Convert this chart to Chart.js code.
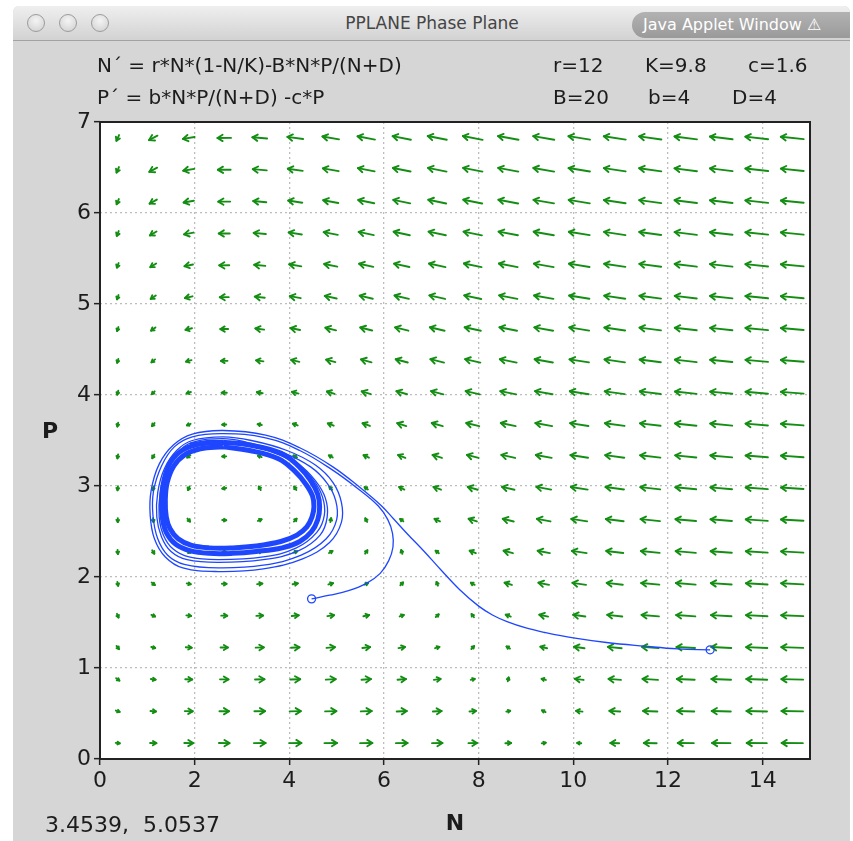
<!DOCTYPE html>
<html>
<head>
<meta charset="utf-8">
<script src="https://cdn.jsdelivr.net/npm/chart.js@4.4.1/dist/chart.umd.min.js"></script>
<style>
  body { margin: 0; width: 853px; height: 841px; overflow: hidden; position: relative; background: #fff; font-family: "DejaVu Sans", sans-serif; }
  #win { position: absolute; left: 13px; top: 6px; width: 837px; height: 840px; background: #d6d6d6; border-radius: 6px 6px 0 0; overflow: hidden; }
  #bar { position: absolute; left: 0; top: 0; width: 100%; height: 34px; background: linear-gradient(#efefef, #d2d2d2); border-bottom: 1px solid #a2a2a2; }
  .btn { position: absolute; top: 8px; width: 16px; height: 16px; border-radius: 50%; border: 1px solid #9c9c9c; background: radial-gradient(circle at 50% 35%, #f4f4f4, #cfcfcf); }
  #title { position: absolute; left: 0; width: 838px; top: 7px; text-align: center; font-size: 17px; color: #454545; }
  #pill { position: absolute; left: 619px; top: 6px; width: 230px; height: 26px; border-radius: 13px; background: linear-gradient(#b2b2b2, #9a9a9a); color: #fff; font-size: 16px; line-height: 26px; padding-left: 11px; box-sizing: border-box; white-space: nowrap; }
  .txt { position: absolute; font-size: 20px; line-height: 20px; color: #1c1c1c; white-space: pre; z-index: 2; }
  canvas { position: absolute; left: 0; top: 0; z-index: 1; }
</style>
</head>
<body>
<div id="win">
  <div id="bar">
    <div class="btn" style="left:14px"></div>
    <div class="btn" style="left:46px"></div>
    <div class="btn" style="left:78px"></div>
    <div id="title">PPLANE Phase Plane</div>
    <div id="pill">Java Applet Window ⚠</div>
  </div>
</div>
<div class="txt" style="left:97px;top:55px">N´ = r*N*(1-N/K)-B*N*P/(N+D)</div>
<div class="txt" style="left:97px;top:87px">P´ = b*N*P/(N+D) -c*P</div>
<div class="txt" style="left:553px;top:55px">r=12</div>
<div class="txt" style="left:645px;top:55px">K=9.8</div>
<div class="txt" style="left:748px;top:55px">c=1.6</div>
<div class="txt" style="left:553px;top:87px">B=20</div>
<div class="txt" style="left:648px;top:87px">b=4</div>
<div class="txt" style="left:732px;top:87px">D=4</div>
<div class="txt" style="left:42px;top:420px;font-weight:bold;font-size:22px;line-height:22px">P</div>
<div class="txt" style="left:45px;top:814px;font-size:22px;line-height:22px">3.4539,  5.0537</div>
<canvas id="chart" width="853" height="841"></canvas>
<script>
// model parameters, as printed on the window
const r = 12, K = 9.8, c = 1.6, B = 20, b = 4, D = 4;

// axis ticks
const nTicks = [0, 2, 4, 6, 8, 10, 12, 14];
const pTicks = [0, 1, 2, 3, 4, 5, 6, 7];

// direction field grid (20 x 20)
const fieldN = [0.375, 1.125, 1.875, 2.625, 3.375, 4.125, 4.875, 5.625, 6.375, 7.125,
                7.875, 8.625, 9.375, 10.125, 10.875, 11.625, 12.375, 13.125, 13.875, 14.625];
const fieldP = [0.175, 0.525, 0.875, 1.225, 1.575, 1.925, 2.275, 2.625, 2.975, 3.325,
                3.675, 4.025, 4.375, 4.725, 5.075, 5.425, 5.775, 6.125, 6.475, 6.825];

// initial points (circles)
const startPoints = [[12.89, 1.20], [4.47, 1.76]];

// trajectory from (12.89, 1.20)
const trajA = [
  [12.89,1.20],[12.2,1.21],[11.5,1.24],[10.7,1.28],[10.0,1.33],[9.4,1.39],[9.0,1.44],[8.6,1.51],
  [8.3,1.58],[8.0,1.68],[7.6,1.86],[7.2,2.08],[6.85,2.28],[6.5,2.47],[6.2,2.64],[5.95,2.78],
  [5.5,2.98],[4.92,3.21],[4.22,3.42],[3.5,3.56],[2.6,3.61],[1.95,3.57],[1.55,3.45],[1.25,3.24],
  [1.08,2.95],[1.06,2.68],[1.15,2.42],[1.38,2.22],[1.75,2.10],[2.5,2.06],[3.45,2.09],[4.28,2.20],
  [4.85,2.38],[5.10,2.60],[5.10,2.82],[4.92,3.04],[4.55,3.23],[3.95,3.39],[3.2,3.50],[2.6,3.54],
  [1.95,3.50],[1.62,3.39],[1.36,3.19],[1.22,2.93],[1.20,2.66],[1.30,2.44],[1.50,2.28],[1.84,2.19],
  [2.5,2.16],[3.45,2.19],[4.2,2.29],[4.65,2.46],[4.80,2.66],[4.76,2.87],[4.55,3.06],[4.2,3.24],
  [3.7,3.38],[3.0,3.47],[2.4,3.50],[1.9,3.47]
];

// trajectory from (4.47, 1.76)
const trajB = [
  [4.47,1.76],[4.85,1.80],[5.25,1.85],[5.63,1.93],[5.92,2.04],[6.1,2.18],[6.19,2.33],[6.18,2.48],
  [6.08,2.63],[5.88,2.78],[5.45,2.97],[4.9,3.18],[4.22,3.39],[3.5,3.53],[2.6,3.575],[1.95,3.54],
  [1.57,3.43],[1.3,3.22],[1.13,2.94],[1.12,2.67],[1.22,2.42],[1.43,2.24],[1.78,2.14],[2.5,2.10],
  [3.45,2.13],[4.25,2.24],[4.78,2.42],[5.0,2.63],[4.98,2.84],[4.8,3.03],[4.45,3.21],[3.85,3.37],
  [3.1,3.48],[2.6,3.52],[1.95,3.48],[1.65,3.37],[1.40,3.18],[1.27,2.92],[1.25,2.66],[1.34,2.46],
  [1.54,2.31],[1.88,2.22],[2.5,2.19],[3.45,2.22],[4.15,2.32],[4.58,2.49],[4.74,2.68],[4.70,2.88],
  [4.50,3.07],[4.15,3.24],[3.65,3.37],[3.0,3.46],[2.4,3.49],[1.9,3.46]
];

// limit cycle band, outer and inner edge
const bandOuter = [
  [2.6,3.48],[2.1,3.46],[1.73,3.39],[1.49,3.26],[1.35,3.06],[1.30,2.85],[1.32,2.64],[1.41,2.48],
  [1.60,2.36],[1.90,2.29],[2.30,2.26],[2.80,2.26],[3.30,2.28],[3.85,2.32],[4.22,2.39],[4.47,2.50],
  [4.60,2.63],[4.64,2.77],[4.60,2.91],[4.45,3.06],[4.21,3.21],[3.83,3.36],[3.16,3.45],[2.6,3.48]
];
const bandInner = [
  [2.6,3.43],[2.12,3.41],[1.78,3.34],[1.56,3.22],[1.42,3.04],[1.38,2.85],[1.40,2.66],[1.48,2.53],
  [1.65,2.42],[1.92,2.35],[2.30,2.32],[2.80,2.32],[3.30,2.34],[3.82,2.39],[4.16,2.46],[4.37,2.55],
  [4.48,2.66],[4.52,2.77],[4.49,2.89],[4.35,3.02],[4.12,3.16],[3.77,3.30],[3.16,3.39],[2.6,3.43]
];

const blue = '#1e46ff';
const green = '#138e13';

// N' and P' from the equations on the window
function rates(N, P) {
  const dN = r * N * (1 - N / K) - B * N * P / (N + D);
  const dP = b * N * P / (N + D) - c * P;
  return [dN, dP];
}

const toXY = arr => arr.map(p => ({ x: p[0], y: p[1] }));

const fieldPoints = [];
fieldP.forEach(p => fieldN.forEach(n => fieldPoints.push({ x: n, y: p })));

// white plot background and frame
const plotBg = {
  id: 'plotBg',
  beforeDraw(chart) {
    const a = chart.chartArea;
    chart.ctx.save();
    chart.ctx.fillStyle = '#fff';
    chart.ctx.fillRect(a.left, a.top, a.right - a.left, a.bottom - a.top);
    chart.ctx.restore();
  },
  afterDraw(chart) {
    const a = chart.chartArea;
    const ctx = chart.ctx;
    ctx.save();
    ctx.strokeStyle = '#222';
    ctx.lineWidth = 2;
    ctx.strokeRect(a.left, a.top, a.right - a.left, a.bottom - a.top);
    ctx.restore();
  }
};

// draws the direction field arrows on the points of dataset 0
const arrows = {
  id: 'arrows',
  afterDatasetDraw(chart, args) {
    if (args.index !== 0) return;
    const ctx = chart.ctx;
    const xs = chart.scales.x, ys = chart.scales.y;
    const data = chart.data.datasets[0].data;
    ctx.save();
    ctx.strokeStyle = green;
    ctx.lineWidth = 1.9;
    ctx.lineCap = 'round';
    ctx.lineJoin = 'round';
    args.meta.data.forEach((pt, i) => {
      const v = data[i];
      const [dN, dP] = rates(v.x, v.y);
      const h = 1e-3;
      const px = xs.getPixelForValue(v.x + dN * h) - pt.x;
      const py = ys.getPixelForValue(v.y + dP * h) - pt.y;
      const len = Math.max(4, 23 * (1 - Math.exp(-Math.hypot(dN, dP) / 35)));
      const ang = Math.atan2(py, px);
      const ux = Math.cos(ang), uy = Math.sin(ang);
      const tx = pt.x + ux * len / 2, ty = pt.y + uy * len / 2;
      ctx.beginPath();
      ctx.moveTo(pt.x - ux * len / 2, pt.y - uy * len / 2);
      ctx.lineTo(tx, ty);
      ctx.stroke();
      const hl = Math.min(6, len * 0.65);
      const a1 = ang + Math.PI - 0.55, a2 = ang + Math.PI + 0.55;
      ctx.beginPath();
      ctx.moveTo(tx + Math.cos(a1) * hl, ty + Math.sin(a1) * hl);
      ctx.lineTo(tx, ty);
      ctx.lineTo(tx + Math.cos(a2) * hl, ty + Math.sin(a2) * hl);
      ctx.stroke();
    });
    ctx.restore();
  }
};

const lineSet = (data, width) => ({
  data: toXY(data),
  showLine: true,
  borderColor: blue,
  borderWidth: width,
  pointRadius: 0,
  tension: 0.4,
  order: 1
});

new Chart(document.getElementById('chart'), {
  type: 'scatter',
  data: {
    datasets: [
      { data: fieldPoints, pointRadius: 0, order: 10 },
      lineSet(bandOuter, 5),
      lineSet(bandInner, 5),
      lineSet(trajA, 1.3),
      lineSet(trajB, 1.3),
      {
        data: toXY(startPoints),
        pointRadius: 4,
        pointBorderWidth: 1.3,
        pointBorderColor: blue,
        pointBackgroundColor: 'rgba(255,255,255,0)',
        order: 0
      }
    ]
  },
  options: {
    responsive: false,
    animation: false,
    events: [],
    layout: { padding: { top: 122, right: 43, left: 0, bottom: 0 } },
    plugins: { legend: { display: false }, tooltip: { enabled: false } },
    scales: {
      x: {
        type: 'linear',
        min: 0,
        max: 15,
        afterFit: s => { s.height = 82; },
        afterBuildTicks: s => { s.ticks = nTicks.map(v => ({ value: v })); },
        ticks: { font: { family: 'DejaVu Sans', size: 22 }, color: '#1c1c1c', padding: 3, maxRotation: 0 },
        grid: { color: '#bdbdbd', lineWidth: 1.3, tickColor: '#222', tickLength: 6, tickWidth: 1.5 },
        border: { display: false, dash: [2, 3] },
        title: { display: true, text: 'N', font: { family: 'DejaVu Sans', size: 22, weight: 'bold' }, color: '#1c1c1c', padding: { top: 0, bottom: 4 } }
      },
      y: {
        type: 'linear',
        min: 0,
        max: 7,
        afterFit: s => { s.width = 100; },
        afterBuildTicks: s => { s.ticks = pTicks.map(v => ({ value: v })); },
        ticks: { font: { family: 'DejaVu Sans', size: 22 }, color: '#1c1c1c', padding: 3 },
        grid: { color: '#bdbdbd', lineWidth: 1.3, tickColor: '#222', tickLength: 6, tickWidth: 1.5 },
        border: { display: false, dash: [2, 3] }
      }
    }
  },
  plugins: [plotBg, arrows]
});
</script>
</body>
</html>
